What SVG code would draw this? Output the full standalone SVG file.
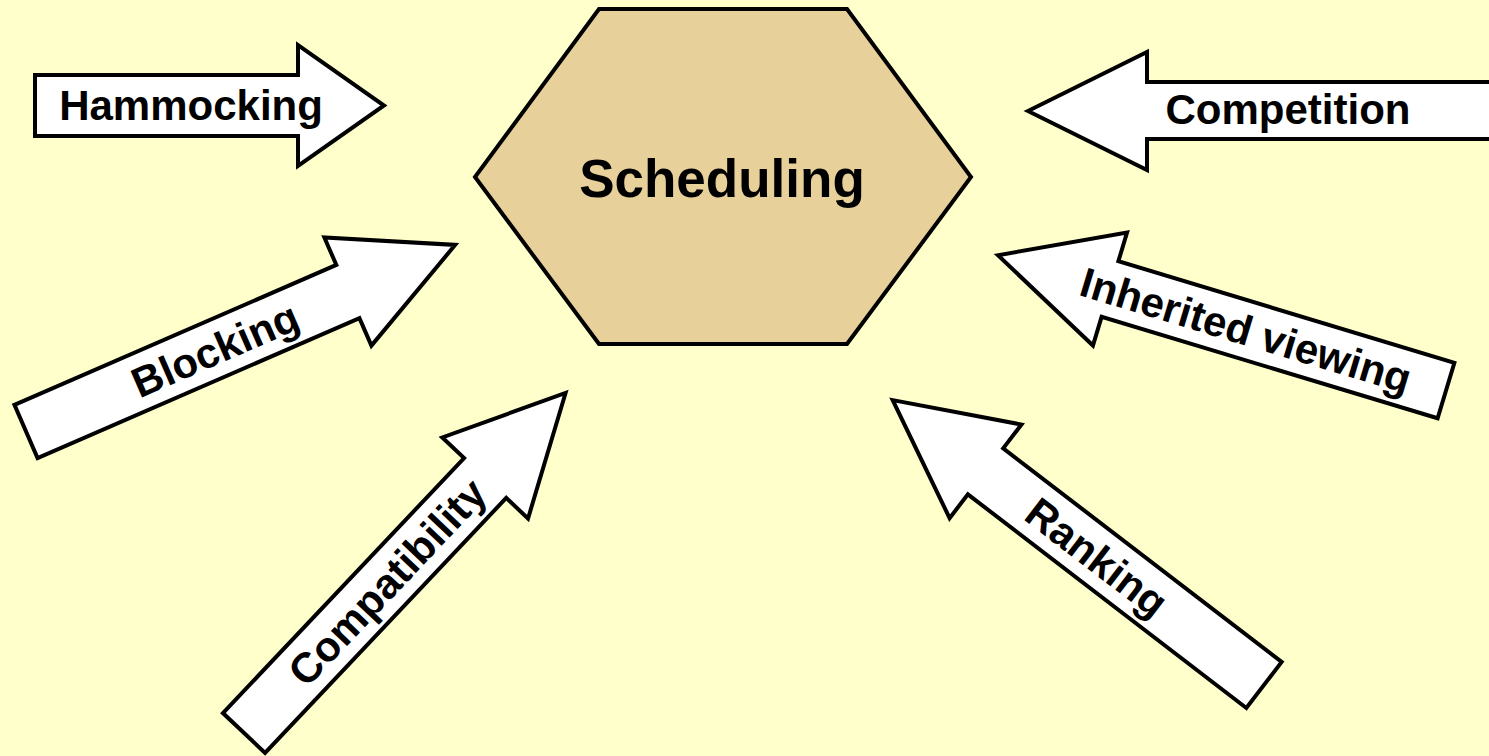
<svg xmlns="http://www.w3.org/2000/svg" width="1489" height="756" viewBox="0 0 1489 756">
<style>
.bg{fill:#FFFFCC}
.arr{fill:#FFFFFF;stroke:#000000;stroke-width:4;stroke-linejoin:miter}
.hex{fill:#E7D09A;stroke:#000000;stroke-width:4}
.lbl{font-family:"Liberation Sans",Arial,sans-serif;font-weight:bold;font-size:42px;fill:#000000;text-anchor:middle}
.title{font-family:"Liberation Sans",Arial,sans-serif;font-weight:bold;font-size:53px;fill:#000000;text-anchor:middle}
</style>
<defs>
<path id="diag" d="M0,-29 L351,-29 L351,-59 L468,0 L351,59 L351,29 L0,29 Z"/>
</defs>
<rect class="bg" x="0" y="0" width="1489" height="756"/>
<g id="scheduling">
<polygon class="hex" points="599,9 847,9 971,177 847,344 599,344 475,177"/>
<text class="title" x="722" y="197">Scheduling</text>
</g>
<g id="connectors">
<g id="hammocking" transform="translate(35,105.5)">
<path class="arr" d="M0,-30.5 L263,-30.5 L263,-60.5 L349,0 L263,60.5 L263,30.5 L0,30.5 Z"/>
<text class="lbl" x="156" y="14">Hammocking</text>
</g>
<g id="competition">
<path class="arr" d="M1028,111 L1147,52 L1147,82 L1500,82 L1500,139 L1147,139 L1147,170 Z"/>
<text class="lbl" x="1288" y="124">Competition</text>
</g>
<g id="blocking" transform="translate(26,431.5) rotate(-23.5)">
<use href="#diag" class="arr"/>
<text class="lbl" x="206" y="15">Blocking</text>
</g>
<g id="inherited-viewing">
<use href="#diag" class="arr" transform="translate(1446,390.5) rotate(196.8)"/>
<text class="lbl" transform="translate(1246,330) rotate(16.8)" x="0" y="15">Inherited viewing</text>
</g>
<g id="compatibility" transform="translate(244,733) rotate(-46.6)">
<use href="#diag" class="arr"/>
<text class="lbl" x="208" y="15">Compatibility</text>
</g>
<g id="ranking">
<use href="#diag" class="arr" transform="translate(1264,685) rotate(217.5)"/>
<text class="lbl" transform="translate(1097,557) rotate(37.5)" x="0" y="15">Ranking</text>
</g>
</g>
</svg>
